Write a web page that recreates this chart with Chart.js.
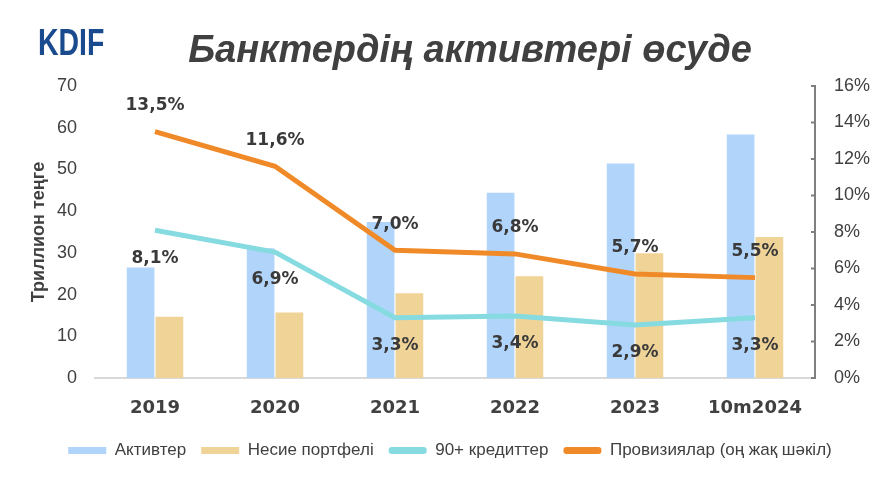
<!DOCTYPE html>
<html>
<head>
<meta charset="utf-8">
<script src="https://cdn.jsdelivr.net/npm/chart.js@4"></script>
<style>
  html, body { margin: 0; padding: 0; background: #fff; }
  #wrap { width: 888px; height: 479px; }
</style>
</head>
<body>
<div id="wrap"><canvas id="canvas" width="888" height="479"></canvas></div>
<script>
'use strict';

const years = ['2019', '2020', '2021', '2022', '2023', '10m2024'];
const assets = [26.5, 31.1, 37.4, 44.4, 51.4, 58.4];
const loans = [14.7, 15.7, 20.3, 24.4, 29.9, 33.8];
const npl90 = [8.1, 6.9, 3.3, 3.4, 2.9, 3.3];
const provisions = [13.5, 11.6, 7.0, 6.8, 5.7, 5.5];

const textGray = '#404040';

// title, logo, right axis tick marks, point labels
const decor = {
  id: 'decor',
  afterDraw(chart) {
    const ctx = chart.ctx;
    ctx.save();
    ctx.fillStyle = '#1a4b8e';
    ctx.font = 'bold 36px "Liberation Sans", Arial, sans-serif';
    ctx.textBaseline = 'alphabetic';
    ctx.translate(38, 55);
    ctx.scale(0.79, 1);
    ctx.fillText('KDIF', 0, 0);
    ctx.restore();

    ctx.save();
    ctx.fillStyle = textGray;
    ctx.font = 'italic bold 38px "Liberation Sans", Arial, sans-serif';
    ctx.textAlign = 'center';
    ctx.fillText('Банктердің активтері өсуде', 470, 52);
    ctx.restore();

    const y1 = chart.scales.y1;
    ctx.save();
    ctx.strokeStyle = '#7f7f7f';
    ctx.lineWidth = 2;
    y1.ticks.forEach(t => {
      const py = y1.getPixelForValue(t.value);
      ctx.beginPath();
      ctx.moveTo(y1.left - 4, py);
      ctx.lineTo(y1.left, py);
      ctx.stroke();
    });
    ctx.restore();
  },
  afterDatasetsDraw(chart) {
    const ctx = chart.ctx;
    ctx.save();
    ctx.font = 'bold 17px "DejaVu Sans", sans-serif';
    ctx.fillStyle = '#3a3a3a';
    ctx.textAlign = 'center';
    ctx.textBaseline = 'middle';
    chart.data.datasets.forEach((ds, i) => {
      if (ds.labelOffset === undefined) return;
      chart.getDatasetMeta(i).data.forEach((pt, j) => {
        const txt = ds.data[j].toFixed(1).replace('.', ',') + '%';
        ctx.fillText(txt, pt.x, pt.y + ds.labelOffset);
      });
    });
    ctx.restore();
  }
};

const ctx = document.getElementById('canvas').getContext('2d');

new Chart(ctx, {
  data: {
    labels: years,
    datasets: [
      {
        type: 'bar',
        label: 'Активтер',
        data: assets,
        backgroundColor: '#b0d4fa',
        yAxisID: 'y',
        order: 2,
        categoryPercentage: 0.48,
        barPercentage: 0.96,
      },
      {
        type: 'bar',
        label: 'Несие портфелі',
        data: loans,
        backgroundColor: '#f0d396',
        yAxisID: 'y',
        order: 2,
        categoryPercentage: 0.48,
        barPercentage: 0.96,
      },
      {
        type: 'line',
        label: '90+ кредиттер',
        data: npl90,
        borderColor: '#86dbe0',
        backgroundColor: '#86dbe0',
        borderWidth: 5,
        pointRadius: 0,
        tension: 0,
        yAxisID: 'y1',
        order: 1,
        labelOffset: 28,
      },
      {
        type: 'line',
        label: 'Провизиялар (оң жақ шәкіл)',
        data: provisions,
        borderColor: '#f08a28',
        backgroundColor: '#f08a28',
        borderWidth: 5,
        pointRadius: 0,
        tension: 0,
        yAxisID: 'y1',
        order: 0,
        labelOffset: -26,
      },
    ],
  },
  options: {
    responsive: false,
    animation: false,
    layout: { padding: { top: 86, left: 28, right: 16, bottom: 10 } },
    scales: {
      x: {
        afterFit(scale) { scale.height = 49; },
        grid: { display: false, drawTicks: false },
        border: { display: true, color: '#d9d9d9', width: 2 },
        ticks: {
          color: textGray,
          font: { family: '"DejaVu Sans", sans-serif', size: 18, weight: 'bold' },
          padding: 20,
        },
      },
      y: {
        position: 'left',
        min: 0,
        max: 70,
        afterFit(scale) { scale.width = 67; },
        ticks: {
          stepSize: 10,
          color: textGray,
          font: { family: '"Liberation Sans", Arial, sans-serif', size: 18 },
          padding: 18,
        },
        grid: { display: false, drawTicks: false },
        border: { display: false },
        title: {
          display: true,
          text: 'Триллион теңге',
          color: textGray,
          font: { family: '"Liberation Sans", Arial, sans-serif', size: 18, weight: 'bold' },
          padding: { top: 0, bottom: 0 },
        },
      },
      y1: {
        position: 'right',
        min: 0,
        max: 16,
        afterFit(scale) { scale.width = 57; },
        ticks: {
          stepSize: 2,
          color: textGray,
          font: { family: '"Liberation Sans", Arial, sans-serif', size: 18 },
          padding: 19,
          callback: v => v + '%',
        },
        grid: { display: false, drawTicks: false },
        border: { display: true, color: '#7f7f7f', width: 2 },
      },
    },
    plugins: {
      legend: {
        position: 'bottom',
        labels: {
          color: textGray,
          font: { family: '"Liberation Sans", Arial, sans-serif', size: 17 },
          boxWidth: 38,
          boxHeight: 7,
          padding: 15,
          useBorderRadius: true,
          sort: (a, b) => a.datasetIndex - b.datasetIndex,
          generateLabels(chart) {
            const items = Chart.defaults.plugins.legend.labels.generateLabels(chart);
            items.forEach(it => {
              const ds = chart.data.datasets[it.datasetIndex];
              const c = ds.type === 'line' ? ds.borderColor : ds.backgroundColor;
              it.fillStyle = c;
              it.strokeStyle = c;
              it.lineWidth = 0;
              it.borderRadius = ds.type === 'line' ? 3 : 0;
            });
            return items;
          },
        },
      },
      tooltip: { enabled: false },
    },
  },
  plugins: [decor],
});
</script>
</body>
</html>
